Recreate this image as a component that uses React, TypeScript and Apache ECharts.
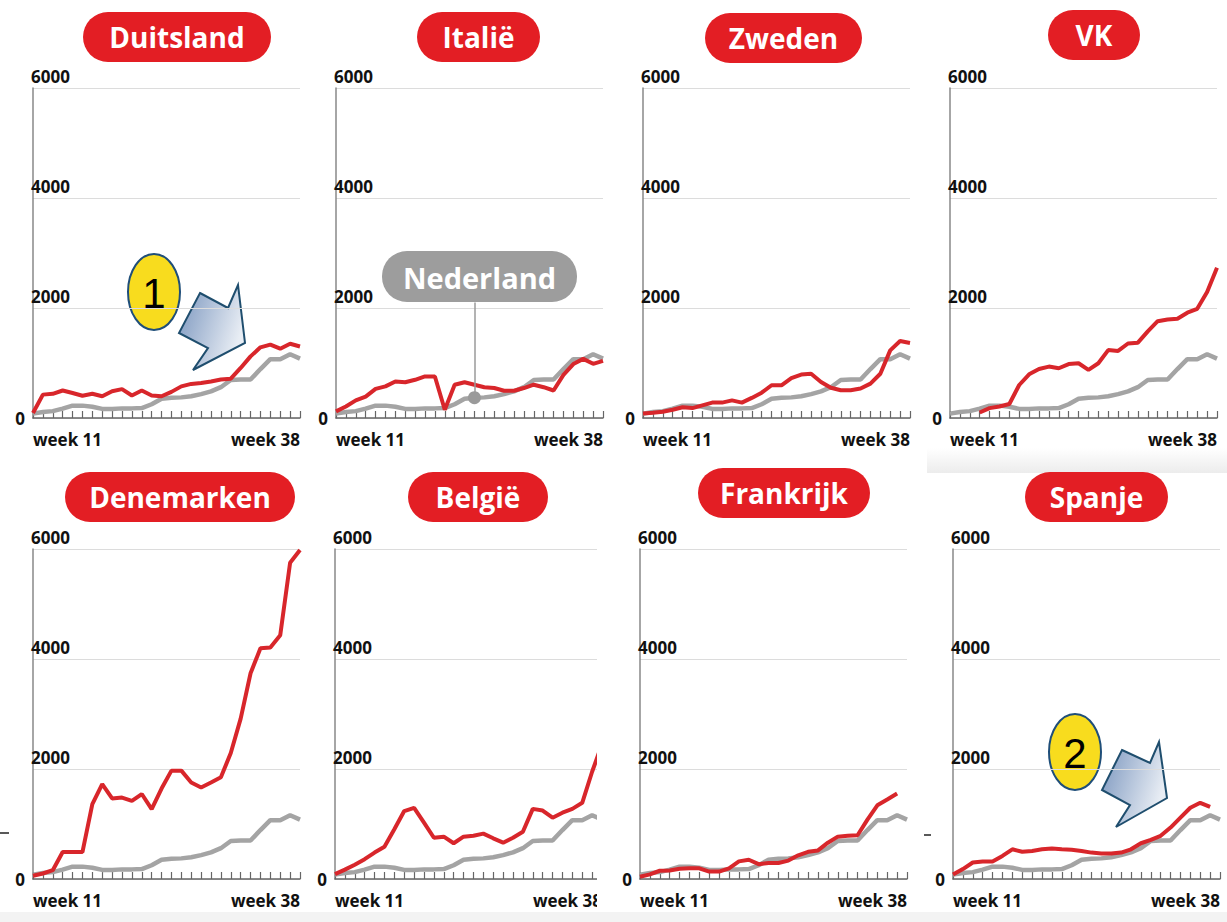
import React, { useEffect, useRef } from "react";
import * as echarts from "echarts";

const weeks = ["11","12","13","14","15","16","17","18","19","20","21","22","23","24","25","26","27","28","29","30","31","32","33","34","35","36","37","38"];
const countries = ["Duitsland", "Italië", "Zweden", "VK", "Denemarken", "België", "Frankrijk", "Spanje"];
const yTicks = [0, 2000, 4000, 6000];

const nederland = [80,110,125,170,225,225,205,165,165,175,175,180,250,350,370,375,395,435,485,560,690,700,700,890,1070,1070,1160,1080];

const duitsland = [90,425,440,500,455,405,440,395,485,525,410,500,410,395,475,575,620,635,665,700,715,910,1120,1285,1335,1260,1350,1300];
const italie = [120,210,320,390,530,575,665,650,695,755,755,150,605,650,605,560,545,495,495,545,605,560,500,785,980,1075,985,1040];
const zweden = [80,95,115,150,195,180,230,280,280,320,280,365,460,595,595,725,790,805,655,550,505,505,535,625,805,1230,1400,1365];
const vk = [null,null,null,100,180,210,255,600,795,890,935,905,980,995,875,995,1235,1220,1355,1370,1575,1760,1790,1805,1915,1985,2290,2730];
const denemarken = [60,100,160,490,490,490,1360,1725,1465,1480,1420,1545,1270,1645,1970,1970,1755,1665,1755,1850,2290,2915,3740,4195,4210,4430,5750,5980];
const belgie = [90,170,260,360,480,585,905,1235,1295,1025,750,770,650,770,785,825,740,660,750,860,1275,1245,1115,1205,1275,1385,1950,2450];
const frankrijk = [40,85,150,155,185,195,195,135,135,195,320,350,270,290,290,335,430,495,520,660,770,785,795,1080,1340,1445,1555,null];
const spanje = [80,180,300,320,320,420,540,495,510,540,555,540,530,510,480,465,465,480,540,650,710,785,935,1115,1295,1385,1310,null];

const countrySeries = [duitsland, italie, zweden, vk, denemarken, belgie, frankrijk, spanje];

const nlLabelWeek = "25";

const FONT = '"Open Sans", "Noto Sans", sans-serif';
const RED = "#d8262b";
const PILL = "#e31e24";
const GRAY = "#a4a4a4";

const gridPos = [
  { left: 33, top: 88 }, { left: 336, top: 88 }, { left: 643, top: 88 }, { left: 950, top: 88 },
  { left: 33, top: 549 }, { left: 335, top: 549 }, { left: 640, top: 549 }, { left: 953, top: 549 },
];
const GW = 267, GH = 330;

const pills = [
  { x: 83, y: 12, w: 188 }, { x: 417, y: 12, w: 123 }, { x: 705, y: 13, w: 157 }, { x: 1048, y: 10, w: 92 },
  { x: 65, y: 472, w: 230 }, { x: 408, y: 472, w: 140 }, { x: 698, y: 468, w: 172 }, { x: 1025, y: 472, w: 143 },
];

export default function App() {
  const ref = useRef<HTMLDivElement>(null);
  useEffect(() => {
    if (!ref.current) return;
    const chart = echarts.init(ref.current, null, { renderer: "svg" });
    const grids: any[] = [];
    const xAxes: any[] = [];
    const yAxes: any[] = [];
    const series: any[] = [];
    const graphics: any[] = [];

    graphics.push({ type: "rect", z: 0, shape: { x: 0, y: 912, width: 1227, height: 10 }, style: { fill: "#f3f3f3" } });
    graphics.push({
      type: "rect", z: 0, shape: { x: 927, y: 448, width: 300, height: 25 },
      style: { fill: new echarts.graphic.LinearGradient(0, 0, 0, 1, [{ offset: 0, color: "#ffffff" }, { offset: 1, color: "#ececec" }]) },
    });

    countries.forEach((name, i) => {
      const g = gridPos[i];
      grids.push({ left: g.left, top: g.top, width: GW, height: GH });
      xAxes.push({
        type: "category", gridIndex: i, data: weeks, boundaryGap: false,
        axisLine: { lineStyle: { color: "#666", width: 1.5 } },
        axisTick: { inside: true, length: 7, interval: 0, lineStyle: { color: "#666", width: 1.2 } },
        axisLabel: {
          interval: (idx: number) => idx === 0 || idx === weeks.length - 1,
          formatter: (v: string) => "week " + v,
          alignMinLabel: "left", alignMaxLabel: "right",
          margin: 13, color: "#111", fontSize: 17, fontWeight: "bold", fontFamily: FONT,
        },
        splitLine: { show: false },
      });
      yAxes.push({
        type: "value", gridIndex: i, position: "left", min: 0, max: 6000, interval: 2000,
        axisLine: { show: true, lineStyle: { color: "#888", width: 1.5 } },
        axisTick: { show: false },
        splitLine: { show: true, lineStyle: { color: "#dcdcdc", width: 1 } },
        axisLabel: {
          inside: true, showMinLabel: false, margin: -2,
          formatter: (v: number) => String(v),
          verticalAlign: "bottom", align: "left", padding: [0, 0, 3, 0],
          color: "#111", fontSize: 17, fontWeight: "bold", fontFamily: FONT,
        },
      });
      yAxes.push({
        type: "value", gridIndex: i, position: "left", offset: 0, min: 0, max: 6000, interval: 2000,
        axisLine: { show: false }, axisTick: { show: false }, splitLine: { show: false },
        axisLabel: {
          formatter: (v: number) => (v === yTicks[0] ? String(v) : ""),
          margin: 8, color: "#111", fontSize: 17, fontWeight: "bold", fontFamily: FONT,
        },
      });
      const graySeries: any = {
        type: "line", name: "Nederland", xAxisIndex: i, yAxisIndex: 2 * i, data: nederland,
        showSymbol: false, z: 2, lineStyle: { color: GRAY, width: 4.5 }, itemStyle: { color: GRAY },
      };
      if (i === 1) {
        const idx = weeks.indexOf(nlLabelWeek);
        graySeries.markPoint = {
          symbol: "circle", symbolSize: 13, label: { show: false }, itemStyle: { color: "#9a9a9a" },
          data: [{ coord: [nlLabelWeek, nederland[idx]] }],
        };
        graySeries.markLine = {
          symbol: "none", silent: true, label: { show: false },
          lineStyle: { color: "#9a9a9a", width: 1.5, type: "solid" },
          data: [[{ coord: [nlLabelWeek, nederland[idx]] }, { coord: [nlLabelWeek, 2100] }]],
        };
      }
      series.push(graySeries);
      series.push({
        type: "line", name, xAxisIndex: i, yAxisIndex: 2 * i, data: countrySeries[i],
        showSymbol: false, z: 3, connectNulls: false,
        lineStyle: { color: RED, width: 4 }, itemStyle: { color: RED },
      });
      const p = pills[i];
      graphics.push({
        type: "group", z: 10,
        children: [
          { type: "rect", shape: { x: p.x, y: p.y, width: p.w, height: 50, r: 25 }, style: { fill: PILL } },
          {
            type: "text",
            style: {
              text: name, x: p.x + p.w / 2, y: p.y + 25, align: "center", verticalAlign: "middle",
              fill: "#fff", fontSize: 28, fontWeight: "bold", fontFamily: FONT,
            },
          },
        ],
      });
    });

    graphics.push({ type: "rect", z: 50, shape: { x: 597, y: 525, width: 23, height: 386 }, style: { fill: "#fff" } });

    graphics.push({
      type: "group", z: 20,
      children: [
        { type: "rect", shape: { x: 382, y: 251, width: 195, height: 51, r: 25 }, style: { fill: "#9d9d9d" } },
        {
          type: "text",
          style: {
            text: "Nederland", x: 479.5, y: 277, align: "center", verticalAlign: "middle",
            fill: "#fff", fontSize: 29, fontWeight: "bold", fontFamily: FONT,
          },
        },
      ],
    });

    const arrowFill = () =>
      new echarts.graphic.LinearGradient(0, 0, 1, 0.4, [
        { offset: 0, color: "#7894bd" },
        { offset: 1, color: "#e8edf4" },
      ]);
    const annotation = (num: string, cx: number, cy: number, pts: number[][]) => ({
      type: "group", z: 30,
      children: [
        { type: "polygon", shape: { points: pts }, style: { fill: arrowFill(), stroke: "#1f4e6e", lineWidth: 2 } },
        { type: "ellipse", shape: { cx, cy, rx: 26, ry: 38 }, style: { fill: "#f8dc1e", stroke: "#1f4e79", lineWidth: 2 } },
        {
          type: "text",
          style: {
            text: num, x: cx, y: cy + 1, align: "center", verticalAlign: "middle",
            fill: "#000", fontSize: 42, fontFamily: '"Liberation Sans", "DejaVu Sans", sans-serif',
          },
        },
      ],
    });
    graphics.push(annotation("1", 154, 292, [[200, 293], [228, 308], [238, 285], [245, 343], [193, 370], [208, 348], [179, 333]]));
    graphics.push(annotation("2", 1075, 752, [[1122, 750], [1150, 763], [1159, 742], [1167, 798], [1116, 827], [1130, 805], [1102, 790]]));

    graphics.push({ type: "line", z: 5, shape: { x1: 0, y1: 833, x2: 9, y2: 833 }, style: { stroke: "#222", lineWidth: 1.5 } });
    graphics.push({ type: "line", z: 5, shape: { x1: 924, y1: 835, x2: 931, y2: 835 }, style: { stroke: "#222", lineWidth: 1.5 } });

    chart.setOption({
      animation: false,
      backgroundColor: "#ffffff",
      grid: grids,
      xAxis: xAxes,
      yAxis: yAxes,
      series,
      graphic: graphics,
    });
    return () => chart.dispose();
  }, []);
  return <div ref={ref} style={{ position: "fixed", left: 0, top: 0, width: 1227, height: 922 }} />;
}
